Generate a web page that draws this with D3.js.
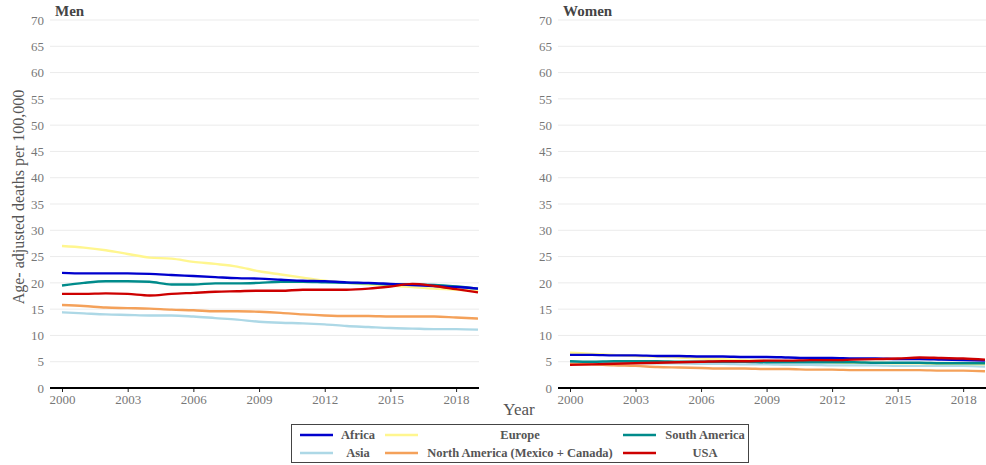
<!DOCTYPE html>
<html>
<head>
<meta charset="utf-8">
<script src="https://cdn.jsdelivr.net/npm/d3@7"></script>
<style>
  html, body { margin: 0; padding: 0; background: #fff; }
  svg { display: block; }
</style>
</head>
<body>
<svg id="chart" width="986" height="465"></svg>
<script>
// Years on the x axis
const years = d3.range(2000, 2020);

// Region names, in legend order
const regions = ["Africa", "Europe", "South America", "Asia", "North America (Mexico + Canada)", "USA"];
const regionColors = ["#0000CD", "#FFF68F", "#008B8B", "#ADD8E6", "#F4A15A", "#CD0000"];

// Men: age-adjusted deaths per 100,000
const menAfrica   = [21.9, 21.8, 21.8, 21.8, 21.7, 21.5, 21.3, 21.1, 20.9, 20.8, 20.6, 20.4, 20.3, 20.1, 20.0, 19.8, 19.6, 19.4, 19.2, 18.9];
const menEurope   = [27.0, 26.7, 26.2, 25.5, 24.8, 24.6, 24.0, 23.6, 23.1, 22.2, 21.6, 21.0, 20.4, 20.0, 19.7, 19.5, 19.2, 18.9, 18.7, 18.5];
const menSouthAm  = [19.5, 20.0, 20.3, 20.3, 20.2, 19.7, 19.7, 19.9, 19.9, 20.0, 20.2, 20.2, 20.1, 20.0, 19.9, 19.7, 19.7, 19.6, 19.3, 18.9];
const menAsia     = [14.4, 14.2, 14.0, 13.9, 13.8, 13.8, 13.6, 13.3, 13.0, 12.6, 12.4, 12.3, 12.1, 11.8, 11.6, 11.4, 11.3, 11.2, 11.2, 11.1];
const menNorthAm  = [15.8, 15.6, 15.3, 15.2, 15.1, 14.9, 14.8, 14.6, 14.6, 14.5, 14.3, 14.0, 13.8, 13.7, 13.7, 13.6, 13.6, 13.6, 13.4, 13.2];
const menUSA      = [17.9, 17.9, 18.0, 17.9, 17.6, 17.9, 18.1, 18.3, 18.4, 18.5, 18.5, 18.7, 18.7, 18.7, 18.9, 19.3, 19.8, 19.4, 18.8, 18.2];

// Women: age-adjusted deaths per 100,000
const womenAfrica  = [6.3, 6.3, 6.2, 6.2, 6.1, 6.1, 6.0, 6.0, 5.9, 5.9, 5.8, 5.7, 5.7, 5.6, 5.6, 5.5, 5.5, 5.4, 5.3, 5.2];
const womenEurope  = [6.7, 6.5, 6.3, 6.1, 6.0, 5.8, 5.6, 5.5, 5.3, 5.2, 5.1, 5.0, 4.9, 4.8, 4.8, 4.7, 4.7, 4.6, 4.6, 4.5];
const womenSouthAm = [5.1, 5.0, 5.1, 5.1, 5.1, 5.0, 5.0, 5.0, 5.0, 4.9, 4.9, 4.9, 4.9, 4.9, 4.8, 4.8, 4.8, 4.7, 4.7, 4.7];
const womenAsia    = [4.8, 4.8, 4.8, 4.8, 4.7, 4.7, 4.6, 4.6, 4.5, 4.5, 4.4, 4.4, 4.3, 4.3, 4.3, 4.2, 4.2, 4.2, 4.2, 4.1];
const womenNorthAm = [4.6, 4.5, 4.3, 4.2, 4.0, 3.9, 3.8, 3.7, 3.7, 3.6, 3.6, 3.5, 3.5, 3.4, 3.4, 3.4, 3.4, 3.3, 3.3, 3.2];
const womenUSA     = [4.4, 4.5, 4.6, 4.7, 4.8, 4.9, 5.0, 5.1, 5.1, 5.2, 5.2, 5.3, 5.3, 5.4, 5.5, 5.6, 5.8, 5.7, 5.6, 5.4];

// Axis ticks
const yTicks = [0, 5, 10, 15, 20, 25, 30, 35, 40, 45, 50, 55, 60, 65, 70];
const xTicks = [2000, 2003, 2006, 2009, 2012, 2015, 2018];

const panels = [
  { title: "Men",   gridLeft: 50,  x0: 62,  x1: 478, series: [menAfrica, menEurope, menSouthAm, menAsia, menNorthAm, menUSA] },
  { title: "Women", gridLeft: 558, x0: 570, x1: 985, series: [womenAfrica, womenEurope, womenSouthAm, womenAsia, womenNorthAm, womenUSA] }
];

const svg = d3.select("#chart");
const serif = "'Liberation Serif', 'Times New Roman', serif";
const y = d3.scaleLinear().domain([0, 70]).range([388, 20]);

// Draw order: later series paint on top
const drawOrder = [3, 4, 1, 2, 0, 5];

panels.forEach(p => {
  const x = d3.scaleLinear().domain([2000, 2019]).range([p.x0, p.x1]);
  const g = svg.append("g");

  // Horizontal gridlines
  g.selectAll("line.grid").data(yTicks).join("line")
    .attr("x1", p.gridLeft).attr("x2", p.x1 + 1)
    .attr("y1", d => y(d)).attr("y2", d => y(d))
    .attr("stroke", "#EBEBEB").attr("stroke-width", 1);

  // y axis labels
  const yAxis = d3.axisLeft(y).tickValues(yTicks).tickSize(0).tickPadding(6);
  const ya = g.append("g").attr("transform", `translate(${p.gridLeft},0)`).call(yAxis);
  ya.select(".domain").remove();
  ya.selectAll("text").attr("font-family", serif).attr("font-size", 13).attr("fill", "#777");

  // Lines
  const line = d3.line().x((d, i) => x(years[i])).y(d => y(d)).curve(d3.curveMonotoneX);
  drawOrder.forEach(k => {
    g.append("path").datum(p.series[k])
      .attr("d", line)
      .attr("fill", "none")
      .attr("stroke", regionColors[k])
      .attr("stroke-width", 2.4)
      .attr("stroke-linejoin", "round");
  });

  // x axis
  const xAxis = d3.axisBottom(x).tickValues(xTicks).tickFormat(d3.format("d")).tickSize(4).tickPadding(3);
  const xa = g.append("g").attr("transform", `translate(0,${y(0)})`).call(xAxis);
  xa.select(".domain").remove();
  xa.append("line").attr("x1", p.gridLeft).attr("x2", p.x1 + 1).attr("y1", 0).attr("y2", 0)
    .attr("stroke", "#000").attr("stroke-width", 2);
  xa.selectAll(".tick line").attr("stroke", "#222");
  xa.selectAll("text").attr("font-family", serif).attr("font-size", 13).attr("fill", "#777");

  // Panel title
  g.append("text").attr("x", p.gridLeft + 5).attr("y", 16)
    .attr("font-family", serif).attr("font-weight", "bold").attr("font-size", 15)
    .attr("fill", "#444").text(p.title);
});

// Axis titles
svg.append("text")
  .attr("transform", "translate(24,197) rotate(-90)")
  .attr("text-anchor", "middle")
  .attr("font-family", serif).attr("font-size", 16).attr("fill", "#555")
  .text("Age- adjusted deaths per 100,000");

svg.append("text")
  .attr("x", 519).attr("y", 415)
  .attr("text-anchor", "middle")
  .attr("font-family", serif).attr("font-size", 17).attr("fill", "#555")
  .text("Year");

// Legend
const legend = svg.append("g");
legend.append("rect").attr("x", 291.5).attr("y", 424.5).attr("width", 457).attr("height", 38)
  .attr("fill", "#fff").attr("stroke", "#444").attr("stroke-width", 1);

const colSwatch = [300, 385, 623];
const colLabel = [358, 520, 705];
const rowY = [435, 453];
regions.forEach((r, i) => {
  const col = i % 3, row = Math.floor(i / 3);
  legend.append("line")
    .attr("x1", colSwatch[col]).attr("x2", colSwatch[col] + 33)
    .attr("y1", rowY[row]).attr("y2", rowY[row])
    .attr("stroke", regionColors[i]).attr("stroke-width", 2.4);
  legend.append("text")
    .attr("x", colLabel[col]).attr("y", rowY[row] + 4)
    .attr("text-anchor", "middle")
    .attr("font-family", serif).attr("font-weight", "bold").attr("font-size", 12.5)
    .attr("fill", "#555").text(r);
});
</script>
</body>
</html>
